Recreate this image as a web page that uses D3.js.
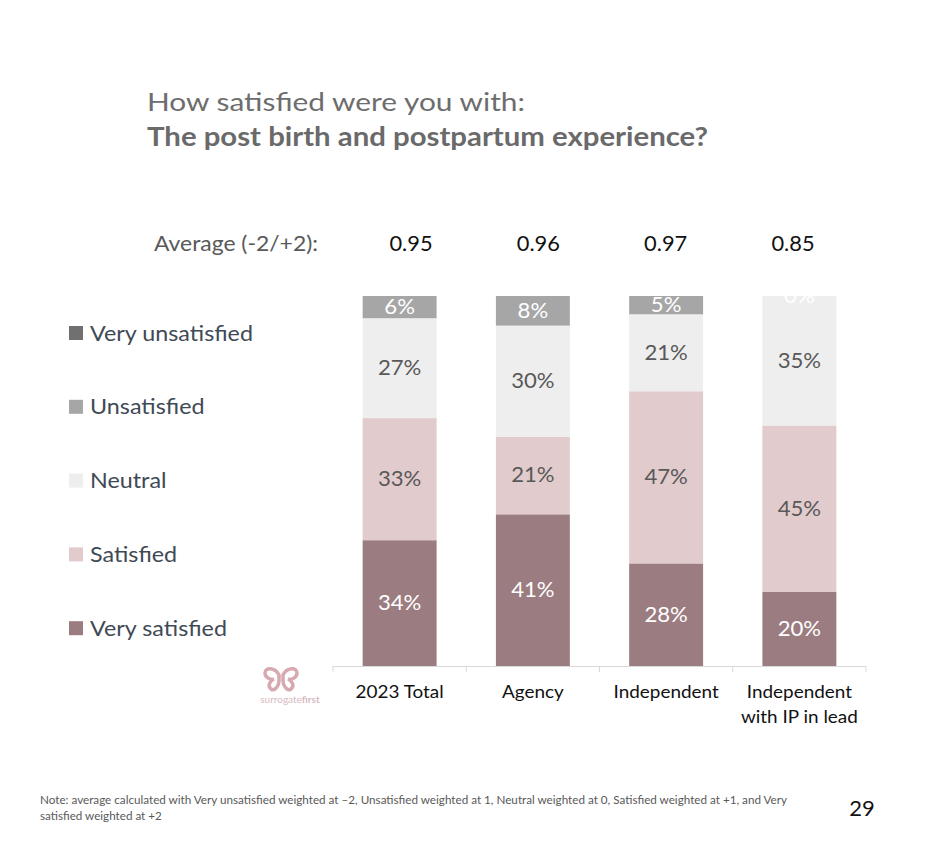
<!DOCTYPE html>
<html><head><meta charset="utf-8">
<script src="https://cdn.jsdelivr.net/npm/d3@7"></script>
<style>body{margin:0;background:#fff;} svg{display:block;font-family:Lato,"Open Sans",sans-serif;}</style>
</head><body>
<svg id="c" width="945" height="843"></svg>
<script>
const categories = ["2023 Total", "Agency", "Independent", "Independent\nwith IP in lead"];
const averages = ["0.95", "0.96", "0.97", "0.85"];
const seriesNames = ["Very satisfied", "Satisfied", "Neutral", "Unsatisfied", "Very unsatisfied"];
const verySatisfied = [34, 41, 28, 20];
const satisfied = [33, 21, 47, 45];
const neutral = [27, 30, 21, 35];
const unsatisfied = [6, 8, 5, 0];
const veryUnsatisfied = [0, 0, 0, 0];
const colors = ["#9b7c80", "#e2cbcd", "#efeeee", "#a6a6a6", "#707070"];
const labelColors = ["#ffffff", "#595959", "#595959", "#ffffff", "#ffffff"];

const svg = d3.select("#c");
function stretch(sel, f) {
  sel.each(function() {
    const w = this.getComputedTextLength();
    d3.select(this).attr("textLength", w * f).attr("lengthAdjust", "spacingAndGlyphs");
  });
  return sel;
}
const seriesVals = [verySatisfied, satisfied, neutral, unsatisfied, veryUnsatisfied];
const rows = categories.map((c, i) => {
  const r = {cat: c};
  seriesNames.forEach((s, j) => r[s] = seriesVals[j][i]);
  return r;
});
const stack = d3.stack().keys(seriesNames).offset(d3.stackOffsetExpand);
const stacked = stack(rows);

const x = d3.scaleBand().domain(categories).range([333, 866]).paddingInner(0.445).paddingOuter(0.2225);
const y = d3.scaleLinear().domain([0, 1]).range([666, 296]);
const xAvg = d3.scalePoint().domain(categories).range([411, 793]);

// title
svg.append("text").attr("x", 147).attr("y", 111).attr("font-size", 25.5).attr("fill", "#6d6d6d")
  .text("How satisfied were you with:").attr("textLength", 378).attr("lengthAdjust", "spacingAndGlyphs");
svg.append("text").attr("x", 147).attr("y", 146).attr("font-size", 26).attr("font-weight", "bold").attr("fill", "#6a6a6a")
  .text("The post birth and postpartum experience?").attr("textLength", 561).attr("lengthAdjust", "spacingAndGlyphs");

// averages
svg.append("text").attr("x", 154).attr("y", 251).attr("font-size", 21).attr("fill", "#595959")
  .text("Average (-2/+2):").attr("textLength", 164).attr("lengthAdjust", "spacingAndGlyphs");
stretch(svg.selectAll(".avg").data(categories).enter().append("text")
  .attr("x", d => xAvg(d)).attr("y", 251).attr("text-anchor", "middle")
  .attr("font-size", 21).attr("fill", "#111").text((d, i) => averages[i]), 1.04);

// bars
const g = svg.append("g");
stacked.forEach((layer, li) => {
  g.selectAll(".b" + li).data(layer).enter().append("rect")
    .attr("x", d => x(d.data.cat)).attr("width", x.bandwidth())
    .attr("y", d => y(d[1])).attr("height", d => y(d[0]) - y(d[1]))
    .attr("fill", colors[li]);
});
// labels (skip very unsatisfied zeros)
stacked.forEach((layer, li) => {
  if (li === 4) return;
  stretch(g.selectAll(".l" + li).data(layer).enter().append("text")
    .attr("x", d => x(d.data.cat) + x.bandwidth() / 2)
    .attr("y", d => (y(d[0]) + y(d[1])) / 2 + 7)
    .attr("text-anchor", "middle").attr("font-size", 20.5)
    .attr("fill", labelColors[li])
    .text(d => d.data[seriesNames[li]] + "%"), 1.08);
});

// x axis
const xa = svg.append("g");
xa.append("line").attr("x1", 333).attr("x2", 866).attr("y1", 666.5).attr("y2", 666.5).attr("stroke", "#d9d9d9");
d3.range(5).forEach(i => {
  const tx = 333 + i * (533 / 4);
  xa.append("line").attr("x1", tx).attr("x2", tx).attr("y1", 666).attr("y2", 672).attr("stroke", "#d9d9d9");
});
categories.forEach(c => {
  const lines = c.split("\n");
  lines.forEach((ln, k) => {
    stretch(xa.append("text").attr("x", x(c) + x.bandwidth() / 2).attr("y", 698 + k * 25)
      .attr("text-anchor", "middle").attr("font-size", 17.5).attr("fill", "#111").text(ln), 1.08);
  });
});

// legend
const legendOrder = ["Very unsatisfied", "Unsatisfied", "Neutral", "Satisfied", "Very satisfied"];
legendOrder.forEach((s, i) => {
  const cy = 333 + i * 73.8;
  const ci = seriesNames.indexOf(s);
  svg.append("rect").attr("x", 69).attr("y", cy - 7).attr("width", 14).attr("height", 14).attr("fill", colors[ci]);
  stretch(svg.append("text").attr("x", 90).attr("y", cy + 7.5).attr("font-size", 22).attr("fill", "#404a55").text(s), 1.06);
});

// logo
const logo = svg.append("g").attr("transform", "translate(281,677)");
logo.append("path").attr("d", "M-2,-2 C-6,-10 -16,-10 -16,-4 C-16,1 -10,3 -7,2 C-11,4 -14,9 -10,12 C-6,15 -2,8 -2,4 Z")
  .attr("fill", "none").attr("stroke", "#d7a9b1").attr("stroke-width", 3.5);
logo.append("path").attr("d", "M2,-2 C6,-10 16,-10 16,-4 C16,1 10,3 7,2 C11,4 14,9 10,12 C6,15 2,8 2,4 Z")
  .attr("fill", "none").attr("stroke", "#d7a9b1").attr("stroke-width", 3.5);
const lt = svg.append("text").attr("x", 290).attr("y", 703).attr("text-anchor", "middle").attr("font-size", 10).attr("fill", "#d8b9bf");
lt.append("tspan").text("surrogate");
lt.append("tspan").attr("font-weight", "bold").text("first");

// note
svg.append("text").attr("x", 40).attr("y", 804).attr("font-size", 10.5).attr("fill", "#595959")
  .text("Note:  average calculated with Very unsatisfied weighted at \u20132, Unsatisfied weighted at 1, Neutral weighted at 0, Satisfied weighted at +1, and Very")
  .attr("textLength", 747).attr("lengthAdjust", "spacingAndGlyphs");
stretch(svg.append("text").attr("x", 40).attr("y", 820).attr("font-size", 10.5).attr("fill", "#595959").text("satisfied weighted at +2"), 1.11);
svg.append("text").attr("x", 862).attr("y", 816).attr("text-anchor", "middle").attr("font-size", 22).attr("fill", "#111").text("29");
</script>
</body></html>
